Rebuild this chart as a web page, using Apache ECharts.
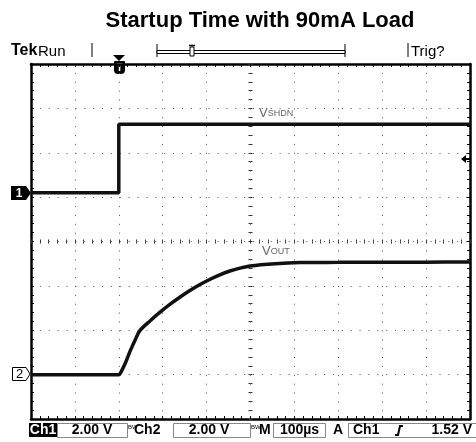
<!DOCTYPE html>
<html>
<head>
<meta charset="utf-8">
<script src="https://cdn.jsdelivr.net/npm/echarts@6/dist/echarts.min.js"></script>
<style>
  html, body { margin: 0; padding: 0; background: #fff; }
  #main { width: 476px; height: 442px; }
</style>
</head>
<body>
<div id="main"></div>
<script>
// scope traces, time in µs from trigger, volts per channel
const ch1Time = [-200, 0, 0, 800];
const ch1Volt = [0, 0, 3.08, 3.08];
const ch2Time = [-200, 0, 3, 14, 25.5, 37, 48, 71, 94, 117, 139, 162, 185, 208, 230, 253, 276, 299, 356, 413, 500, 600, 700, 800];
const ch2Volt = [0, 0, 0.05, 0.48, 1.05, 1.55, 1.98, 2.42, 2.82, 3.18, 3.49, 3.79, 4.06, 4.30, 4.50, 4.67, 4.80, 4.90, 5.0, 5.05, 5.06, 5.07, 5.07, 5.08];

// screen setup
const voltsPerDiv = 2;        // Ch1 2.00 V, Ch2 2.00 V
const ch1Offset = 1.1;        // divisions above centre
const ch2Offset = -3;         // divisions below centre
const timeMin = -200, timeMax = 800, timePerDiv = 100;

const statusTexts = ['2.00 V', '2.00 V', '100µs', 'Ch1', '1.52 V'];

const F = 'Liberation Sans, Arial, sans-serif';
const chart = echarts.init(document.getElementById('main'));

function pairs(xs, ys) {
    return xs.map((x, i) => [x, ys[i]]);
}

const dotLine = { color: '#555', width: 1, type: [1, 7.88] };
const frameLine = { show: true, onZero: false, lineStyle: { color: '#000', width: 2.5 } };

function timeAxis(pos, extra) {
    return Object.assign({
        type: 'value', position: pos, min: timeMin, max: timeMax, interval: timePerDiv,
        axisLabel: { show: false },
        axisTick: { show: true, inside: true, length: 3, lineStyle: { color: '#000' } },
        minorTick: { show: true, splitNumber: 5, length: 3, lineStyle: { color: '#000' } },
        splitLine: { show: false }
    }, extra);
}
function divAxis(pos, extra) {
    return Object.assign({
        type: 'value', position: pos, min: -4, max: 4, interval: 1,
        axisLabel: { show: false },
        axisTick: { show: true, inside: true, length: 3, lineStyle: { color: '#000' } },
        minorTick: { show: true, splitNumber: 5, length: 3, lineStyle: { color: '#000' } },
        splitLine: { show: false }
    }, extra);
}
const centreLine = { show: true, onZero: true, lineStyle: { color: 'rgba(0,0,0,0)' } };
const centreTick = { show: true, inside: false, length: 2, lineStyle: { color: '#333' } };
const centreMinor = { show: true, splitNumber: 5, length: 2, lineStyle: { color: '#333' } };

const option = {
    animation: false,
    backgroundColor: '#fff',
    grid: { left: 31, right: 6, top: 64, bottom: 23 },
    xAxis: [
        timeAxis('bottom', { axisLine: frameLine, splitLine: { show: true, lineStyle: dotLine } }),
        timeAxis('top', { axisLine: frameLine }),
        timeAxis('bottom', { axisLine: Object.assign({ onZeroAxisIndex: 0 }, centreLine), axisTick: centreTick, minorTick: centreMinor }),
        timeAxis('top', { axisLine: Object.assign({ onZeroAxisIndex: 0 }, centreLine), axisTick: centreTick, minorTick: centreMinor }),
        { type: 'value', min: -5, max: 5, show: false }
    ],
    yAxis: [
        divAxis('left', { axisLine: frameLine, splitLine: { show: true, lineStyle: dotLine } }),
        divAxis('right', { axisLine: frameLine }),
        divAxis('left', { axisLine: Object.assign({ onZeroAxisIndex: 4 }, centreLine), axisTick: centreTick, minorTick: centreMinor }),
        divAxis('right', { axisLine: Object.assign({ onZeroAxisIndex: 4 }, centreLine), axisTick: centreTick, minorTick: centreMinor }),
        { type: 'value', show: false, min: -(4 + ch1Offset) * voltsPerDiv, max: (4 - ch1Offset) * voltsPerDiv },
        { type: 'value', show: false, min: -(4 + ch2Offset) * voltsPerDiv, max: (4 - ch2Offset) * voltsPerDiv }
    ],
    series: [
        {
            name: 'VSHDN', type: 'line', xAxisIndex: 0, yAxisIndex: 4,
            data: pairs(ch1Time, ch1Volt), showSymbol: false, z: 5,
            lineStyle: { color: '#111', width: 3.5 }
        },
        {
            name: 'VOUT', type: 'line', xAxisIndex: 0, yAxisIndex: 5,
            data: pairs(ch2Time, ch2Volt), showSymbol: false, smooth: 0.3, z: 5,
            lineStyle: { color: '#111', width: 3.5 }
        }
    ],
    graphic: [
        // title
        { type: 'text', x: 260, y: 21, style: { text: 'Startup Time with 90mA Load', font: 'bold 22px ' + F, fill: '#000', align: 'center', verticalAlign: 'middle' } },
        // top status row
        { type: 'text', x: 11, y: 59, style: { text: 'Tek', font: 'bold 16px ' + F, fill: '#000', verticalAlign: 'bottom' } },
        { type: 'text', x: 38, y: 59, style: { text: 'Run', font: '15px ' + F, fill: '#000', verticalAlign: 'bottom' } },
        { type: 'line', shape: { x1: 92, y1: 43, x2: 92, y2: 57 }, style: { stroke: '#000', lineWidth: 1 } },
        { type: 'line', shape: { x1: 157, y1: 44, x2: 157, y2: 57 }, style: { stroke: '#000', lineWidth: 1 } },
        { type: 'line', shape: { x1: 345, y1: 44, x2: 345, y2: 57 }, style: { stroke: '#000', lineWidth: 1 } },
        { type: 'rect', shape: { x: 157, y: 50.5, width: 188, height: 3 }, style: { fill: '#fff', stroke: '#000', lineWidth: 1 } },
        { type: 'rect', shape: { x: 190, y: 47, width: 4, height: 9 }, style: { fill: '#fff', stroke: '#000', lineWidth: 1 } },
        { type: 'line', shape: { x1: 189, y1: 45.5, x2: 195, y2: 45.5 }, style: { stroke: '#000', lineWidth: 1.5 } },
        { type: 'line', shape: { x1: 408, y1: 43, x2: 408, y2: 57 }, style: { stroke: '#000', lineWidth: 1 } },
        { type: 'text', x: 411, y: 59, style: { text: 'Trig?', font: '15px ' + F, fill: '#000', verticalAlign: 'bottom' } },
        // trigger position marker
        { type: 'polygon', shape: { points: [[113, 55], [125, 55], [119, 61]] }, style: { fill: '#000' } },
        { type: 'rect', shape: { x: 114, y: 61, width: 11, height: 13, r: [1, 1, 4, 4] }, style: { fill: '#000' } },
        { type: 'text', x: 119.5, y: 68, style: { text: 'T', font: 'bold 10px ' + F, fill: '#fff', align: 'center', verticalAlign: 'middle' } },
        // channel markers
        { type: 'polygon', shape: { points: [[11, 186], [26, 186], [31, 193], [26, 200], [11, 200]] }, style: { fill: '#000' } },
        { type: 'text', x: 19, y: 193.5, style: { text: '1', font: 'bold 12px ' + F, fill: '#fff', align: 'center', verticalAlign: 'middle' } },
        { type: 'polygon', shape: { points: [[12.5, 367.5], [26, 367.5], [30, 374], [26, 380.5], [12.5, 380.5]] }, style: { fill: '#fff', stroke: '#000', lineWidth: 1 } },
        { type: 'text', x: 19.5, y: 374.5, style: { text: '2', font: '13px ' + F, fill: '#000', align: 'center', verticalAlign: 'middle' } },
        // trigger level arrow
        { type: 'polygon', shape: { points: [[461, 159], [466, 155], [466, 163]] }, style: { fill: '#000' } },
        { type: 'line', shape: { x1: 465, y1: 159, x2: 470, y2: 159 }, style: { stroke: '#000', lineWidth: 2 } },
        // trace labels
        { type: 'text', x: 259, y: 120, style: { text: '{v|V}{s|SHDN}', verticalAlign: 'bottom', rich: { v: { font: '13px ' + F, fill: '#666' }, s: { font: '9px ' + F, fill: '#666' } } } },
        { type: 'text', x: 262, y: 258, style: { text: '{v|V}{s|OUT}', verticalAlign: 'bottom', rich: { v: { font: '13px ' + F, fill: '#666' }, s: { font: '9px ' + F, fill: '#666' } } } },
        // bottom status bar
        { type: 'rect', shape: { x: 29, y: 423, width: 28, height: 14 }, style: { fill: '#000' } },
        { type: 'text', x: 43, y: 430.5, style: { text: 'Ch1', font: 'bold 14px ' + F, fill: '#fff', align: 'center', verticalAlign: 'middle' } },
        { type: 'rect', shape: { x: 57.5, y: 423.5, width: 70, height: 14 }, style: { fill: 'none', stroke: '#888', lineWidth: 1 } },
        { type: 'text', x: 92, y: 430.5, style: { text: statusTexts[0], font: 'bold 14px ' + F, fill: '#000', align: 'center', verticalAlign: 'middle' } },
        { type: 'text', x: 128, y: 427, style: { text: 'BW', font: '6px ' + F, fill: '#000', verticalAlign: 'middle' } },
        { type: 'text', x: 134, y: 430.5, style: { text: 'Ch2', font: 'bold 14px ' + F, fill: '#000', verticalAlign: 'middle' } },
        { type: 'rect', shape: { x: 173.5, y: 423.5, width: 77, height: 14 }, style: { fill: 'none', stroke: '#888', lineWidth: 1 } },
        { type: 'text', x: 209, y: 430.5, style: { text: statusTexts[1], font: 'bold 14px ' + F, fill: '#000', align: 'center', verticalAlign: 'middle' } },
        { type: 'text', x: 251, y: 427, style: { text: 'BW', font: '6px ' + F, fill: '#000', verticalAlign: 'middle' } },
        { type: 'text', x: 259, y: 430.5, style: { text: 'M', font: 'bold 14px ' + F, fill: '#000', verticalAlign: 'middle' } },
        { type: 'rect', shape: { x: 273.5, y: 423.5, width: 52, height: 14 }, style: { fill: 'none', stroke: '#888', lineWidth: 1 } },
        { type: 'text', x: 299.5, y: 430.5, style: { text: statusTexts[2], font: 'bold 14px ' + F, fill: '#000', align: 'center', verticalAlign: 'middle' } },
        { type: 'text', x: 333, y: 430.5, style: { text: 'A', font: 'bold 14px ' + F, fill: '#000', verticalAlign: 'middle' } },
        { type: 'rect', shape: { x: 348.5, y: 423.5, width: 130, height: 14 }, style: { fill: 'none', stroke: '#888', lineWidth: 1 } },
        { type: 'text', x: 353, y: 430.5, style: { text: statusTexts[3], font: 'bold 14px ' + F, fill: '#000', verticalAlign: 'middle' } },
        { type: 'polyline', shape: { points: [[395, 435], [398, 435], [400, 426], [403, 426]] }, style: { stroke: '#000', lineWidth: 2, fill: 'none' } },
        { type: 'text', x: 472, y: 430.5, style: { text: statusTexts[4], font: 'bold 14px ' + F, fill: '#000', align: 'right', verticalAlign: 'middle' } }
    ]
};

chart.setOption(option);
</script>
</body>
</html>
